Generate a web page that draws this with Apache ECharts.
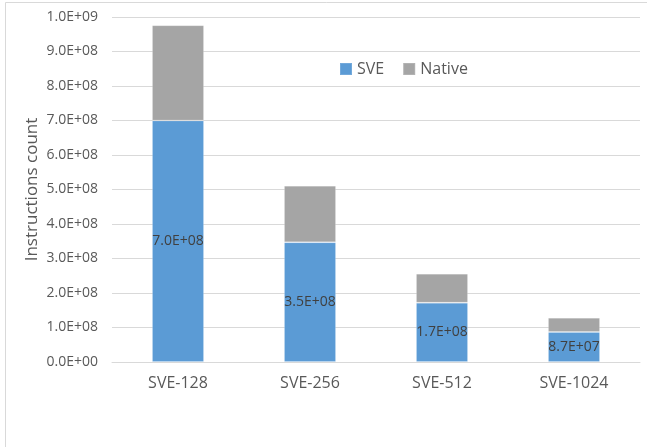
<!DOCTYPE html>
<html>
<head>
<meta charset="utf-8">
<script src="https://cdn.jsdelivr.net/npm/echarts@6/dist/echarts.min.js"></script>
<style>html,body{margin:0;padding:0;background:#fff;}#c{width:647px;height:447px;}</style>
</head>
<body>
<div id="c"></div>
<script>
var categories = ['SVE-128', 'SVE-256', 'SVE-512', 'SVE-1024'];
var sveValues = [7.0e8, 3.47e8, 1.72e8, 8.7e7];
var nativeValues = [2.76e8, 1.64e8, 0.84e8, 0.41e8];
var yTicks = { min: 0, max: 1.0e9, interval: 1.0e8 };

function sci(v) {
  if (v === 0) return '0.0E+00';
  var e = Math.floor(Math.log10(Math.abs(v)));
  var m = v / Math.pow(10, e);
  if (Math.round(m * 10) / 10 >= 10) { m /= 10; e += 1; }
  return m.toFixed(1) + 'E' + (e >= 0 ? '+' : '-') + String(Math.abs(e)).padStart(2, '0');
}

var chart = echarts.init(document.getElementById('c'));
chart.setOption({
  animation: false,
  backgroundColor: '#fff',
  graphic: [{
    type: 'rect', left: 5, top: 2, z: -1,
    shape: { width: 660, height: 460 },
    style: { fill: '#fff', stroke: '#d9d9d9', lineWidth: 1 }
  }],
  grid: { left: 112, right: 7, top: 17, bottom: 85 },
  legend: {
    top: 56, left: 334,
    itemWidth: 12, itemHeight: 12, itemGap: 18,
    icon: 'rect',
    textStyle: { fontFamily: 'Open Sans', fontSize: 16, color: '#595959' },
    data: ['SVE', 'Native']
  },
  xAxis: {
    type: 'category', data: categories,
    axisLine: { show: true, lineStyle: { color: '#d9d9d9', width: 1 } },
    axisTick: { show: false },
    axisLabel: { fontFamily: 'Open Sans', fontSize: 16, color: '#595959', margin: 13 }
  },
  yAxis: {
    type: 'value', min: yTicks.min, max: yTicks.max, interval: yTicks.interval,
    name: 'Instructions count', nameLocation: 'middle', nameGap: 71,
    nameMoveOverlap: false,
    nameTextStyle: { fontFamily: 'Open Sans', fontSize: 17, color: '#595959' },
    axisLine: { show: false }, axisTick: { show: false },
    splitLine: { lineStyle: { color: '#d9d9d9', width: 1 } },
    axisLabel: { fontFamily: 'Open Sans', fontSize: 14, color: '#595959', margin: 14, formatter: sci }
  },
  series: [{
    name: 'SVE', type: 'bar', stack: 'a', data: sveValues, barWidth: 52,
    itemStyle: { color: '#5b9bd5', borderColor: 'rgba(255,255,255,0.15)', borderWidth: 1 },
    label: { show: true, position: 'inside', fontFamily: 'Open Sans', fontSize: 14, color: '#404040',
      formatter: function (p) { return sci(p.value); } }
  }, {
    name: 'Native', type: 'bar', stack: 'a', data: nativeValues, barWidth: 52,
    itemStyle: { color: '#a5a5a5', borderColor: 'rgba(255,255,255,0.15)', borderWidth: 1 }
  }]
});
</script>
</body>
</html>
